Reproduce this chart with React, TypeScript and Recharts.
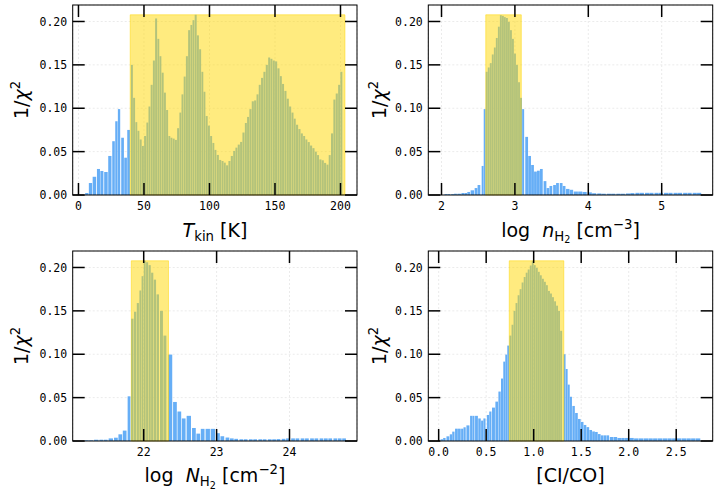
import React from 'react';
import { BarChart, Bar, XAxis, YAxis, CartesianGrid, ReferenceArea } from 'recharts';

// ---------- data ----------
// Panel 1: T_kin [K]
const tkinX = [
  6.4, 9.2, 12.2, 15.3, 17.9, 21.0, 24.0, 26.8, 29.0, 31.0, 33.7, 36.0, 38.3,
  40.8, 42.5, 44.2, 45.8, 47.5, 49.2, 50.9, 52.6, 54.2, 55.9, 57.6, 59.3, 61.0, 62.6, 64.3, 66.0,
  67.7, 69.4, 71.0, 72.7, 74.4, 76.1, 77.8, 79.4, 81.1, 82.8, 84.5, 86.2, 87.8, 89.5, 91.2, 92.9,
  94.6, 96.2, 97.9, 99.6, 101.3, 103.0, 104.6,
  106.4, 108.2, 110.0, 111.7, 113.5, 115.3, 117.1, 118.9, 120.6, 122.4, 124.2, 126.0, 127.8, 129.5,
  131.3, 133.1, 134.9, 136.7, 138.4, 140.2, 142.0, 143.8, 145.6, 147.3, 149.1, 150.9, 152.7, 154.5,
  156.2, 158.0, 159.8, 161.6, 163.4, 165.1, 166.9, 168.7, 170.5, 172.3, 174.0, 175.8, 177.6, 179.4,
  181.2, 182.9, 184.7, 186.5, 188.3, 190.1, 191.8, 193.6, 195.4, 197.2, 199.0, 200.7,
];
const tkinY = [
  0.0023, 0.0138, 0.021, 0.030, 0.0277, 0.0265, 0.045, 0.062, 0.085, 0.099, 0.066, 0.043, 0.075,
  0.150, 0.112, 0.084, 0.074, 0.064, 0.0565, 0.068, 0.0835, 0.102, 0.127, 0.155, 0.2035, 0.180, 0.160,
  0.141, 0.118, 0.098, 0.068, 0.066, 0.065, 0.0635, 0.077, 0.095, 0.116, 0.1365, 0.160, 0.190, 0.196,
  0.2015, 0.2077, 0.184, 0.168, 0.142, 0.119, 0.091, 0.080, 0.068, 0.060, 0.052,
  0.0462, 0.0404, 0.0392, 0.0373, 0.0342,
  0.0392, 0.045, 0.0508, 0.0546, 0.0581, 0.0612, 0.072, 0.083, 0.090, 0.099, 0.108, 0.109, 0.116,
  0.127, 0.135, 0.142, 0.150, 0.1585,
  0.157, 0.155, 0.154, 0.146, 0.137, 0.128, 0.120, 0.111, 0.102, 0.095, 0.088, 0.081, 0.076, 0.071,
  0.068, 0.064, 0.061, 0.057, 0.054, 0.050, 0.046, 0.041, 0.040, 0.037, 0.035,
  0.046, 0.071, 0.110, 0.117, 0.127, 0.142,
];
const tkinBest = [39.5, 203.4];
const tkinTicks = [0, 50, 100, 150, 200];

// Panel 2: log n_H2
const nX = [
  2.06, 2.10, 2.15, 2.19, 2.24, 2.29, 2.33, 2.37, 2.42, 2.47, 2.51, 2.56,
  2.588, 2.616, 2.643, 2.671, 2.698, 2.726, 2.753, 2.781, 2.808, 2.836, 2.863, 2.891, 2.918, 2.946,
  2.973, 3.001, 3.028, 3.056, 3.083,
  3.112, 3.16, 3.20, 3.24, 3.28, 3.32, 3.36, 3.41, 3.45, 3.49, 3.54, 3.58, 3.63, 3.67, 3.72,
  3.77, 3.83, 3.89, 3.95, 4.02, 4.08, 4.15, 4.21, 4.28, 4.34, 4.41, 4.47, 4.54, 4.60, 4.67, 4.73,
  4.80, 4.86, 4.93, 4.99, 5.06, 5.12, 5.19, 5.25, 5.32, 5.38, 5.45, 5.51,
];
const nY = [
  0.001, 0.001, 0.001, 0.0015, 0.0015, 0.0023, 0.0023, 0.0035, 0.0054, 0.008, 0.0115, 0.0335,
  0.099, 0.142, 0.147, 0.152, 0.162, 0.170, 0.181, 0.194, 0.2073, 0.2065, 0.205, 0.204, 0.1996, 0.190,
  0.180, 0.163, 0.150, 0.130, 0.112,
  0.099, 0.067, 0.045, 0.0346, 0.027, 0.028, 0.030, 0.016, 0.008, 0.0104, 0.0115, 0.0138, 0.0138,
  0.0104, 0.007,
  0.006, 0.004, 0.004, 0.0035, 0.003, 0.002, 0.0018, 0.0015, 0.0015, 0.0015, 0.0015, 0.0015, 0.0018,
  0.0022, 0.0025, 0.0025, 0.0025, 0.0025, 0.0025, 0.0025, 0.0025, 0.0025, 0.0025, 0.0025, 0.0025,
  0.0025, 0.0025, 0.0025,
];
const nBest = [2.603, 3.087];
const nTicks = [2, 3, 4, 5];

// Panel 3: log N_H2
const NX = [
  21.22, 21.28, 21.35, 21.42, 21.48, 21.55, 21.62, 21.68, 21.74, 21.80,
  21.845, 21.884, 21.921, 21.955, 21.985, 22.015, 22.048, 22.083, 22.118, 22.155, 22.194, 22.245,
  22.292, 22.365,
  22.43, 22.49, 22.55, 22.62, 22.69, 22.75, 22.81, 22.88, 22.95,
  23.02, 23.08, 23.15, 23.21, 23.27, 23.34, 23.40, 23.47, 23.53, 23.60, 23.66, 23.73, 23.79, 23.85,
  23.92, 23.98, 24.05, 24.11, 24.18, 24.24, 24.31, 24.37, 24.44, 24.50, 24.56, 24.63, 24.69, 24.75,
];
const NY = [
  0.0008, 0.0008, 0.0015, 0.0015, 0.0015, 0.003, 0.0038, 0.0077, 0.012, 0.0515,
  0.141, 0.149, 0.159, 0.1735, 0.19, 0.2077, 0.206, 0.2027, 0.194, 0.186, 0.169, 0.150, 0.1215, 0.0996,
  0.045, 0.034, 0.026, 0.029, 0.015, 0.0085, 0.014, 0.014, 0.014,
  0.009, 0.0055, 0.004, 0.003, 0.0025, 0.002, 0.002, 0.002, 0.002, 0.002, 0.002, 0.002, 0.002, 0.0022,
  0.0025, 0.003, 0.003, 0.003, 0.003, 0.003, 0.003, 0.003, 0.003, 0.003, 0.003, 0.003, 0.003, 0.003,
];
const NBest = [21.83, 22.34];
const NTicks = [22, 23, 24];

// Panel 4: [CI/CO]
const rX = [
  0.033, 0.060, 0.097, 0.129, 0.155, 0.187, 0.218, 0.248, 0.273, 0.308, 0.342, 0.366, 0.398, 0.430,
  0.458, 0.482, 0.519, 0.544, 0.577, 0.611, 0.641, 0.667, 0.690, 0.711, 0.732, 0.755,
  0.777, 0.798, 0.819, 0.841, 0.862, 0.883, 0.905, 0.926, 0.947, 0.969, 0.990, 1.011, 1.033, 1.054,
  1.075, 1.097, 1.118, 1.139, 1.161, 1.182, 1.203, 1.225, 1.246, 1.267, 1.289,
  1.325, 1.347, 1.369, 1.392, 1.42, 1.45, 1.48, 1.51, 1.54, 1.57, 1.60, 1.63, 1.66, 1.69, 1.72, 1.75,
  1.78, 1.82, 1.86, 1.90, 1.94, 1.98, 2.03, 2.08, 2.13, 2.18, 2.23, 2.28, 2.33, 2.38, 2.43, 2.48,
  2.53, 2.58, 2.63, 2.68, 2.73,
];
const rY = [
  0.002, 0.0035, 0.0054, 0.0077, 0.0108, 0.0142, 0.0142, 0.0142, 0.0158, 0.018, 0.029, 0.029, 0.029,
  0.026, 0.0235, 0.026, 0.030, 0.034, 0.0385, 0.0454, 0.057, 0.072, 0.0915, 0.0996, 0.11, 0.1215,
  0.134, 0.150, 0.159, 0.168, 0.175, 0.1827, 0.189, 0.194, 0.1977, 0.2023, 0.2077, 0.2027, 0.1996,
  0.195, 0.191, 0.187, 0.1835, 0.1796, 0.173, 0.170, 0.1658, 0.161, 0.156, 0.150, 0.127,
  0.100, 0.083, 0.065, 0.051, 0.0404, 0.0323, 0.0254, 0.022, 0.0185, 0.016, 0.0127, 0.011, 0.0104,
  0.008, 0.0065, 0.0065, 0.0065, 0.0046, 0.0046, 0.0035, 0.0035, 0.0035, 0.0035, 0.003, 0.003, 0.003,
  0.003, 0.003, 0.003, 0.003, 0.003, 0.003, 0.003, 0.003, 0.003, 0.003, 0.003,
];
const rBest = [0.743, 1.317];
const rTicks = [0, 0.5, 1, 1.5, 2, 2.5];

const yTicks = [0, 0.05, 0.1, 0.15, 0.2];
const bestTop = 0.2077;

// ---------- styling ----------
const BAR = '#66aef6';
const GOLD = '#ffd700';
const MONO = 'DejaVu Sans Mono';
const TICK_FS = 11.5;
const TL = 12; // inward tick length
const TW = 1.5; // tick stroke width
const XM = 6.5; // x tick label gap
const YM = 5.5; // y tick label gap

const rows = (xs: number[], ys: number[]) => xs.map((x, i) => ({ x, y: ys[i] }));

// bar shape: width follows the local spacing of the bins (relative to the library's band width)
function makeShape(xs: number[]) {
  let minGap = Infinity;
  for (let i = 1; i < xs.length; i++) minGap = Math.min(minGap, xs[i] - xs[i - 1]);
  return (props: any) => {
    const { x, y, width, height, index } = props;
    if (!(height > 0) || !(width > 0)) return <g />;
    const l = index > 0 ? xs[index] - xs[index - 1] : Infinity;
    const r = index < xs.length - 1 ? xs[index + 1] - xs[index] : Infinity;
    let local = Math.min(l, r);
    if (!isFinite(local)) local = minGap;
    const w = width * (local / minGap) * 0.93;
    const cx = x + width / 2;
    return <rect x={cx - w / 2} y={y} width={w} height={height} fill={BAR} />;
  };
}

type PanelProps = {
  xs: number[];
  ys: number[];
  xDomain: [number, number];
  xTicks: number[];
  xFmt: (v: number) => string;
  best: number[];
  left: number;
  top: number;
  w: number;
  h: number;
  pl: number;
  pt: number;
  pr: number;
  pb: number;
};

function Panel(p: PanelProps) {
  const plotH = p.pb - p.pt;
  const plotW = p.pr - p.pl;
  const XTick = (t: any) => {
    const x = t.x;
    const yb = t.y - XM; // plot bottom
    const yt = yb - plotH; // plot top
    return (
      <g>
        <line x1={x} x2={x} y1={yb} y2={yb - TL} stroke="#000" strokeWidth={TW} />
        <line x1={x} x2={x} y1={yt} y2={yt + TL} stroke="#000" strokeWidth={TW} />
        <text
          x={x}
          y={t.y}
          dy="0.76em"
          textAnchor="middle"
          fontFamily={MONO}
          fontSize={TICK_FS}
          fill="#000"
        >
          {p.xFmt(t.payload.value)}
        </text>
      </g>
    );
  };
  const YTick = (t: any) => {
    const y = t.y;
    const xl = t.x + YM; // plot left
    const xr = xl + plotW;
    return (
      <g>
        <line x1={xl} x2={xl + TL} y1={y} y2={y} stroke="#000" strokeWidth={TW} />
        <line x1={xr} x2={xr - TL} y1={y} y2={y} stroke="#000" strokeWidth={TW} />
        <text
          x={t.x}
          y={y}
          dy="0.36em"
          textAnchor="end"
          fontFamily={MONO}
          fontSize={TICK_FS}
          fill="#000"
        >
          {(t.payload.value as number).toFixed(2)}
        </text>
      </g>
    );
  };
  return (
    <div style={{ position: 'absolute', left: p.left, top: p.top, width: p.w, height: p.h }}>
      <BarChart
        width={p.w}
        height={p.h}
        data={rows(p.xs, p.ys)}
        margin={{ top: p.pt, right: p.w - p.pr, bottom: 0, left: 0 }}
        barCategoryGap={0}
        barGap={0}
      >
        <CartesianGrid stroke="#ebebeb" strokeDasharray="2 2" />
        <XAxis
          type="number"
          dataKey="x"
          domain={p.xDomain}
          allowDataOverflow
          ticks={p.xTicks}
          interval={0}
          height={p.h - p.pb}
          tickSize={0}
          tickMargin={XM}
          tick={XTick}
          tickLine={false}
          axisLine={false}
        />
        <YAxis
          type="number"
          domain={[0, 0.219]}
          allowDataOverflow
          ticks={yTicks}
          interval={0}
          width={p.pl}
          tickSize={0}
          tickMargin={YM}
          tick={YTick}
          tickLine={false}
          axisLine={false}
        />
        <Bar dataKey="y" fill={BAR} shape={makeShape(p.xs)} isAnimationActive={false} />
        <ReferenceArea
          x1={p.best[0]}
          x2={p.best[1]}
          y1={0}
          y2={bestTop}
          fill={GOLD}
          fillOpacity={0.5}
          stroke={GOLD}
          strokeOpacity={0.5}
          ifOverflow="visible"
          zIndex={450}
        />
      </BarChart>
      <svg
        width={p.w}
        height={p.h}
        style={{ position: 'absolute', left: 0, top: 0, pointerEvents: 'none' }}
      >
        <rect x={p.pl} y={p.pt} width={plotW} height={plotH} fill="none" stroke="#000" strokeWidth={1} />
      </svg>
    </div>
  );
}

const LABEL_FONT = 'DejaVu Sans';
const FS = 19;
const SUB = 13.3;
const SUB2 = 9.6;

function YLabel({ x, y }: { x: number; y: number }) {
  return (
    <text
      x={x}
      y={y}
      transform={`rotate(-90, ${x}, ${y})`}
      textAnchor="middle"
      fontFamily={LABEL_FONT}
      fontSize={FS}
      fill="#000"
      style={{ whiteSpace: 'pre' }}
    >
      <tspan>1/</tspan>
      <tspan fontStyle="italic">χ</tspan>
      <tspan fontSize={SUB} dy={-8}>2</tspan>
    </text>
  );
}

function Labels() {
  const common = {
    fontFamily: LABEL_FONT,
    fontSize: FS,
    fill: '#000',
    textAnchor: 'middle' as const,
    style: { whiteSpace: 'pre' as const },
  };
  return (
    <svg
      width={720}
      height={495}
      style={{ position: 'absolute', left: 0, top: 0, pointerEvents: 'none' }}
    >
      <YLabel x={28} y={100} />
      <YLabel x={386} y={100} />
      <YLabel x={28} y={346} />
      <YLabel x={386} y={346} />
      <text x={215} y={236.5} {...common}>
        <tspan fontStyle="italic">T</tspan>
        <tspan fontSize={SUB} dy={4}>kin</tspan>
        <tspan dy={-4}> [K]</tspan>
      </text>
      <text x={570.5} y={236.5} {...common}>
        <tspan>log  </tspan>
        <tspan fontStyle="italic">n</tspan>
        <tspan fontSize={SUB} dy={4}>H</tspan>
        <tspan fontSize={SUB2} dy={2.5}>2</tspan>
        <tspan dy={-6.5}> [cm</tspan>
        <tspan fontSize={SUB} dy={-8}>−3</tspan>
        <tspan dy={8}>]</tspan>
      </text>
      <text x={215} y={482} {...common}>
        <tspan>log  </tspan>
        <tspan fontStyle="italic">N</tspan>
        <tspan fontSize={SUB} dy={4}>H</tspan>
        <tspan fontSize={SUB2} dy={2.5}>2</tspan>
        <tspan dy={-6.5}> [cm</tspan>
        <tspan fontSize={SUB} dy={-8}>−2</tspan>
        <tspan dy={8}>]</tspan>
      </text>
      <text x={570.5} y={482} {...common}>
        [CI/CO]
      </text>
    </svg>
  );
}

export default function App() {
  return (
    <div
      style={{
        position: 'absolute',
        left: 0,
        top: 0,
        width: 720,
        height: 495,
        background: '#fff',
        overflow: 'hidden',
      }}
    >
      <Panel
        xs={tkinX}
        ys={tkinY}
        xDomain={[-4.4, 212.6]}
        xTicks={tkinTicks}
        xFmt={(v) => String(v)}
        best={tkinBest}
        left={0}
        top={0}
        w={360}
        h={245}
        pl={72.7}
        pt={5}
        pr={357}
        pb={195}
      />
      <Panel
        xs={nX}
        ys={nY}
        xDomain={[1.82, 5.695]}
        xTicks={nTicks}
        xFmt={(v) => String(v)}
        best={nBest}
        left={360}
        top={0}
        w={360}
        h={245}
        pl={68.3}
        pt={5}
        pr={352.7}
        pb={195}
      />
      <Panel
        xs={NX}
        ys={NY}
        xDomain={[21.026, 24.926]}
        xTicks={NTicks}
        xFmt={(v) => String(v)}
        best={NBest}
        left={0}
        top={245}
        w={360}
        h={250}
        pl={72.7}
        pt={6}
        pr={357}
        pb={196}
      />
      <Panel
        xs={rX}
        ys={rY}
        xDomain={[-0.109, 2.884]}
        xTicks={rTicks}
        xFmt={(v) => v.toFixed(1)}
        best={rBest}
        left={360}
        top={245}
        w={360}
        h={250}
        pl={68.3}
        pt={6}
        pr={352.7}
        pb={196}
      />
      <Labels />
    </div>
  );
}
